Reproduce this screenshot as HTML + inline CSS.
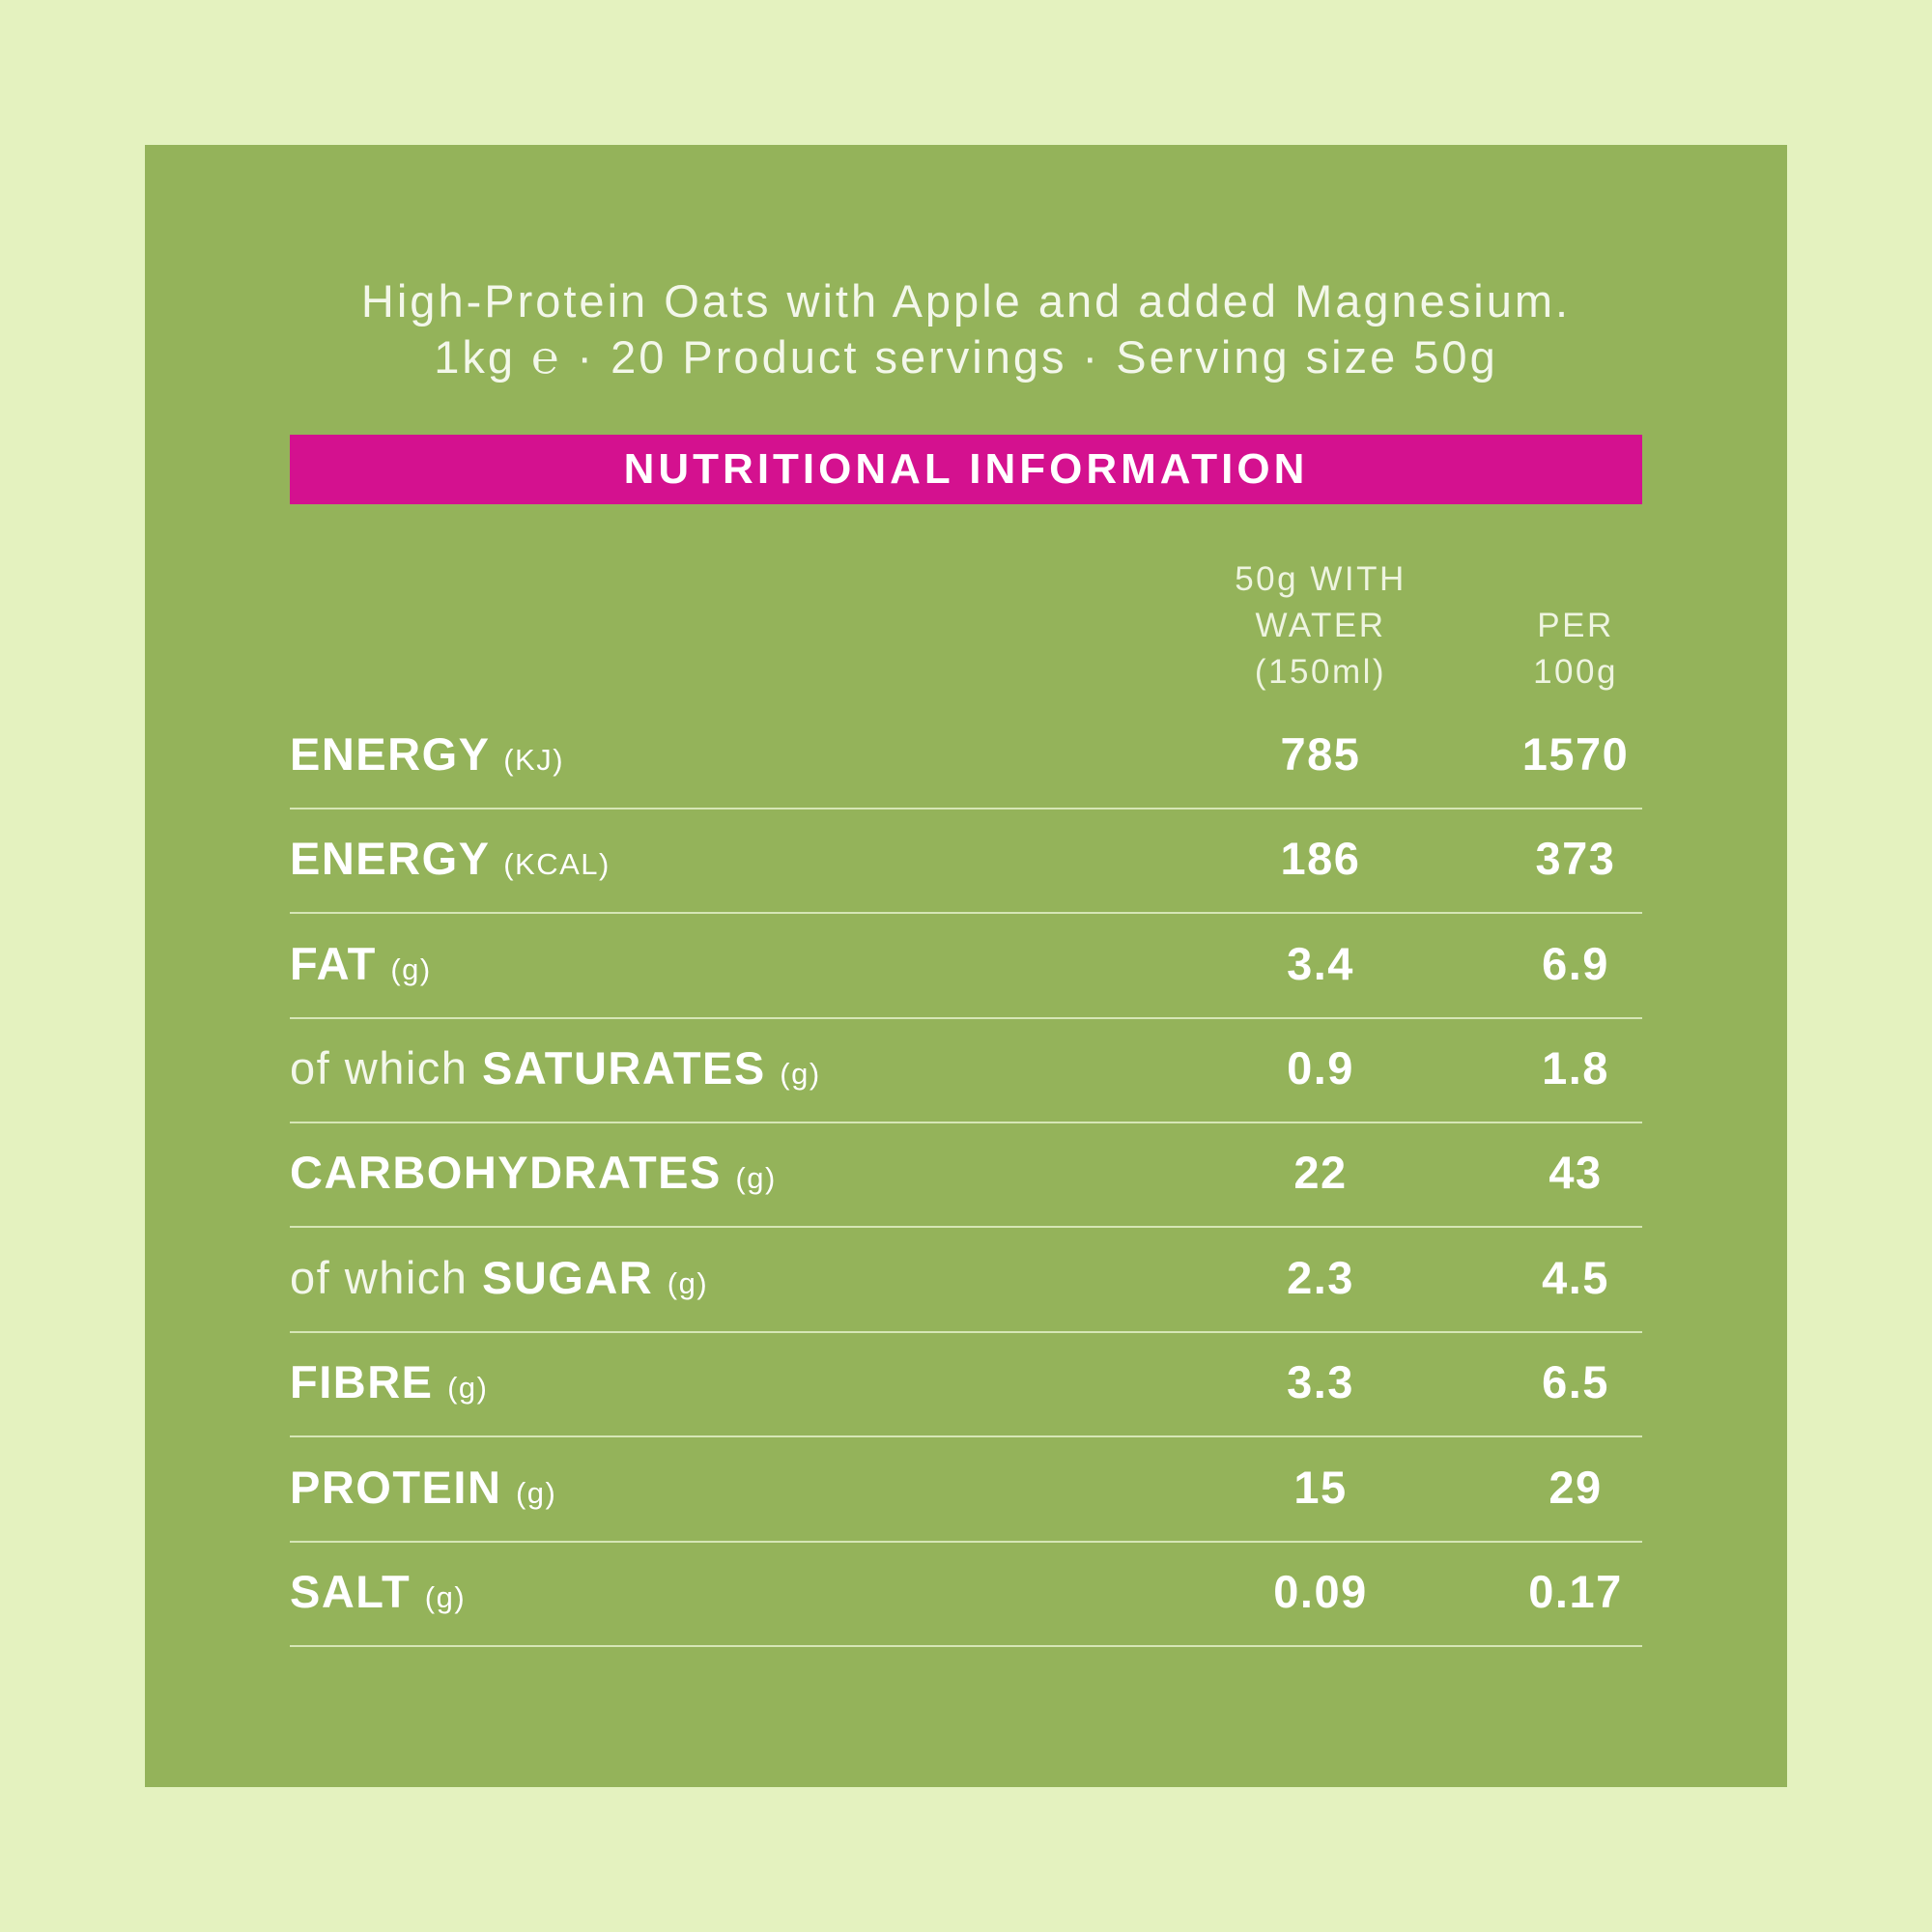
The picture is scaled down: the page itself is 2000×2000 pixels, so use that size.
<!DOCTYPE html>
<html><head><meta charset="utf-8">
<style>
html,body{margin:0;padding:0;}
body{width:2000px;height:2000px;background:#e4f2bf;position:relative;font-family:"Liberation Sans",sans-serif;overflow:hidden;}
#panel{position:absolute;left:150px;top:150px;width:1700px;height:1700px;background:#94b35a;}
.t{position:absolute;left:0;width:2000px;text-align:center;color:#f3f7ea;font-size:47px;letter-spacing:3px;}
#bar{position:absolute;left:300px;top:450px;width:1400px;height:72px;background:#d4118f;color:#fff;font-weight:bold;font-size:44px;line-height:72px;text-align:center;letter-spacing:4px;}
.ch{position:absolute;width:300px;text-align:center;color:#eef4e0;font-size:35px;line-height:48px;letter-spacing:2.5px;}
.row{position:absolute;left:300px;width:1400px;height:108px;border-bottom:2px solid #d6e6b6;box-sizing:border-box;}
.lab{position:absolute;left:0;bottom:28px;color:#fff;font-size:47px;font-weight:bold;white-space:nowrap;letter-spacing:1.5px;}
.lab .u{font-size:31px;font-weight:normal;}
.lab .w{font-weight:normal;color:#f3f7ea;}
.v{position:absolute;bottom:28px;width:300px;text-align:center;color:#fff;font-size:47px;font-weight:bold;letter-spacing:1.5px;}
.v1{left:917px;}.v2{left:1181px;}
</style></head><body>
<div id="panel"></div>
<div class="t" style="top:284px">High-Protein Oats with Apple and added Magnesium.</div>
<div class="t" style="top:342px">1kg ℮ · 20 Product servings · Serving size 50g</div>
<div id="bar">NUTRITIONAL INFORMATION</div>
<div class="ch" style="left:1217px;top:576px">50g WITH<br>WATER<br>(150ml)</div>
<div class="ch" style="left:1481px;top:624px">PER<br>100g</div>

<div class="row" style="top:730px"><div class="lab">ENERGY <span class="u">(KJ)</span></div><div class="v v1">785</div><div class="v v2">1570</div></div>
<div class="row" style="top:838px"><div class="lab">ENERGY <span class="u">(KCAL)</span></div><div class="v v1">186</div><div class="v v2">373</div></div>
<div class="row" style="top:947px"><div class="lab">FAT <span class="u">(g)</span></div><div class="v v1">3.4</div><div class="v v2">6.9</div></div>
<div class="row" style="top:1055px"><div class="lab"><span class="w">of which</span> SATURATES <span class="u">(g)</span></div><div class="v v1">0.9</div><div class="v v2">1.8</div></div>
<div class="row" style="top:1163px"><div class="lab">CARBOHYDRATES <span class="u">(g)</span></div><div class="v v1">22</div><div class="v v2">43</div></div>
<div class="row" style="top:1272px"><div class="lab"><span class="w">of which</span> SUGAR <span class="u">(g)</span></div><div class="v v1">2.3</div><div class="v v2">4.5</div></div>
<div class="row" style="top:1380px"><div class="lab">FIBRE <span class="u">(g)</span></div><div class="v v1">3.3</div><div class="v v2">6.5</div></div>
<div class="row" style="top:1489px"><div class="lab">PROTEIN <span class="u">(g)</span></div><div class="v v1">15</div><div class="v v2">29</div></div>
<div class="row" style="top:1597px"><div class="lab">SALT <span class="u">(g)</span></div><div class="v v1">0.09</div><div class="v v2">0.17</div></div>
</body></html>
